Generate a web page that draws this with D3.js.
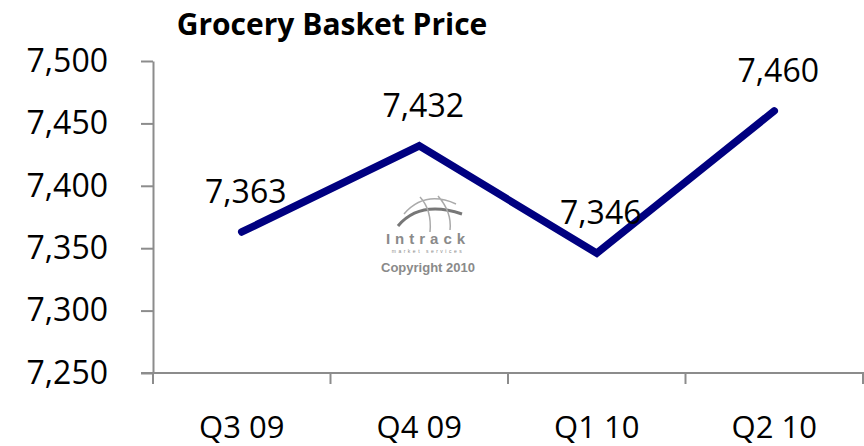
<!DOCTYPE html>
<html>
<head>
<meta charset="utf-8">
<script src="https://cdn.jsdelivr.net/npm/d3@7"></script>
<style>
  body { margin: 0; background: #fff; }
  svg { display: block; }
  text { font-family: "Open Sans", "Liberation Sans", sans-serif; }
</style>
</head>
<body>
<svg id="chart" width="864" height="446"></svg>
<script>
let quarters = ['Q3 09', 'Q4 09', 'Q1 10', 'Q2 10'];
let prices = [7363, 7432, 7346, 7460];
let yTicks = [7250, 7300, 7350, 7400, 7450, 7500];

let svg = d3.select('#chart');
let fmt = d3.format(',');

let x = d3.scaleBand().domain(quarters).range([153, 863]).paddingInner(0).paddingOuter(0);
let y = d3.scaleLinear().domain([7250, 7500]).range([373, 61]);

// title
svg.append('text')
    .attr('x', 332).attr('y', 35)
    .attr('text-anchor', 'middle')
    .style('font-weight', 'bold')
    .style('font-size', '30px')
    .text('Grocery Basket Price');

// y axis
let yAxis = svg.append('g')
    .attr('transform', 'translate(153,0)')
    .call(d3.axisLeft(y).tickValues(yTicks).tickFormat(fmt).tickSize(12).tickSizeOuter(0).tickPadding(33));
yAxis.select('.domain').attr('stroke', '#8c8c8c').attr('stroke-width', 2);
yAxis.selectAll('.tick line').attr('stroke', '#8c8c8c').attr('stroke-width', 2);
yAxis.selectAll('.tick text')
    .attr('fill', '#000')
    .style('font-size', '32px')
    .style('font-family', '"Open Sans", sans-serif');

// x axis: ticks on band edges, labels in band centers
let edges = quarters.map(q => x(q)).concat([x.range()[1]]);
let xAxis = svg.append('g').attr('transform', 'translate(0,373)');
xAxis.append('line')
    .attr('x1', 141).attr('x2', 864)
    .attr('stroke', '#8c8c8c').attr('stroke-width', 2);
xAxis.selectAll('line.tk').data(edges).enter().append('line')
    .attr('class', 'tk')
    .attr('x1', d => d).attr('x2', d => d)
    .attr('y1', 0).attr('y2', 11)
    .attr('stroke', '#8c8c8c').attr('stroke-width', 2);
xAxis.selectAll('text').data(quarters).enter().append('text')
    .attr('x', d => x(d) + x.bandwidth() / 2)
    .attr('y', 65)
    .attr('text-anchor', 'middle')
    .style('font-size', '31px')
    .text(d => d);

// watermark
let wm = svg.append('g').attr('fill', '#8a8a8a');
wm.append('path')
    .attr('d', 'M398,226 Q420,200 462,214')
    .attr('fill', 'none').attr('stroke', '#777').attr('stroke-width', 3);
wm.append('path')
    .attr('d', 'M404,214 Q425,190 456,204 M420,197 Q432,210 430,232 M438,196 Q452,212 450,230')
    .attr('fill', 'none').attr('stroke', '#aaa').attr('stroke-width', 1.5);
wm.append('text')
    .attr('x', 428).attr('y', 244)
    .attr('text-anchor', 'middle')
    .style('font-family', '"Liberation Sans", sans-serif')
    .style('font-weight', 'bold')
    .style('font-size', '15px')
    .style('letter-spacing', '5px')
    .text('Intrack');
wm.append('text')
    .attr('x', 428).attr('y', 253)
    .attr('text-anchor', 'middle')
    .style('font-family', '"Liberation Sans", sans-serif')
    .style('font-size', '5px')
    .style('letter-spacing', '2.5px')
    .text('market services');
wm.append('text')
    .attr('x', 428).attr('y', 272)
    .attr('text-anchor', 'middle')
    .style('font-family', '"Liberation Sans", sans-serif')
    .style('font-weight', 'bold')
    .style('font-size', '13px')
    .text('Copyright 2010');

// line
let line = d3.line()
    .x((d, i) => x(quarters[i]) + x.bandwidth() / 2)
    .y(d => y(d));
svg.append('path')
    .datum(prices)
    .attr('d', line)
    .attr('fill', 'none')
    .attr('stroke', '#000080')
    .attr('stroke-width', 7.5)
    .attr('stroke-linecap', 'round')
    .attr('stroke-linejoin', 'miter');

// value labels
svg.selectAll('text.val').data(prices).enter().append('text')
    .attr('class', 'val')
    .attr('x', (d, i) => x(quarters[i]) + x.bandwidth() / 2 + 4)
    .attr('y', d => y(d) - 29)
    .attr('text-anchor', 'middle')
    .style('font-size', '32px')
    .text(d => fmt(d));
</script>
</body>
</html>
